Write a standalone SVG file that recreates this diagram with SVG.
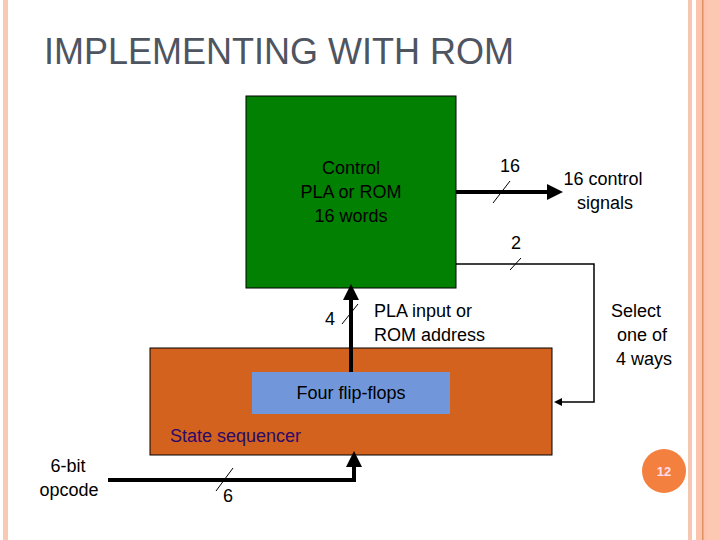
<svg xmlns="http://www.w3.org/2000/svg" width="720" height="540" viewBox="0 0 720 540">
<style>
text{font-family:"Liberation Sans",Arial,sans-serif;font-size:18px;fill:#000}
.thick{stroke:#000;stroke-width:4;fill:none}
.thin{stroke:#000;stroke-width:1.5;fill:none}
.tick{stroke:#000;stroke-width:1}
</style>
<defs>
<marker id="ah" markerWidth="4" markerHeight="4" refX="2" refY="2" orient="auto" markerUnits="strokeWidth"><path d="M0,0L4,2L0,4z" fill="#000"/></marker>
<marker id="ah2" markerWidth="8" markerHeight="8" refX="6" refY="4" orient="auto" markerUnits="userSpaceOnUse"><path d="M0,0L8,4L0,8z" fill="#000"/></marker>
</defs>
<rect width="720" height="540" fill="#fff"/>
<rect x="3" y="0" width="5" height="540" fill="#f9c9b4"/>
<rect x="688" y="0" width="4" height="540" fill="#f7c6b0"/>
<rect x="696" y="0" width="24" height="540" fill="#fcc4ae"/>
<rect x="702" y="0" width="1.5" height="540" fill="#e0905e"/>
<rect x="707" y="0" width="13" height="540" fill="#fdc8b2"/>
<text x="44" y="64" style="font-size:36px;fill:#4e5560">IMPLEMENTING WITH ROM</text>
<g id="rom"><rect x="246" y="96" width="210" height="192" fill="#028002" stroke="#000" stroke-width="1"/>
<text text-anchor="middle"><tspan x="351" y="174">Control</tspan><tspan x="351" y="198">PLA or ROM</tspan><tspan x="351" y="222">16 words</tspan></text></g>
<g id="seq"><rect x="150" y="348" width="402" height="107" fill="#d2621e" stroke="#000" stroke-width="1"/>
<text x="170" y="442" style="fill:#2a0a6a">State sequencer</text></g>
<g id="ff"><rect x="252" y="372" width="198" height="42" fill="#7197da"/>
<text x="351" y="399" text-anchor="middle">Four flip-flops</text></g>
<g id="connectors">
<path class="thick" d="M456,192H555" marker-end="url(#ah)"/>
<line class="tick" x1="493" y1="203" x2="510" y2="181"/>
<path class="thin" d="M456,264H594V402H556" marker-end="url(#ah2)"/>
<line class="tick" x1="510" y1="270" x2="521" y2="258"/>
<path class="thick" d="M351,372V292" marker-end="url(#ah)"/>
<line class="tick" x1="342" y1="324" x2="358" y2="304"/>
<path class="thick" d="M108,480H354V459" marker-end="url(#ah)"/>
<line class="tick" x1="216" y1="491" x2="233" y2="468"/>
</g>
<text x="510" y="172" text-anchor="middle">16</text>
<text x="603" y="185" text-anchor="middle">16 control</text>
<text x="605" y="209" text-anchor="middle">signals</text>
<text x="516" y="249" text-anchor="middle">2</text>
<text x="330" y="325" text-anchor="middle">4</text>
<text x="374" y="317">PLA input or</text>
<text x="374" y="341">ROM address</text>
<text x="636" y="317" text-anchor="middle">Select</text>
<text x="642" y="341" text-anchor="middle">one of</text>
<text x="644" y="365" text-anchor="middle">4 ways</text>
<text x="68" y="472" text-anchor="middle">6-bit</text>
<text x="69" y="496" text-anchor="middle">opcode</text>
<text x="228" y="502" text-anchor="middle">6</text>
<circle cx="664" cy="471" r="22" fill="#f3803e"/>
<text x="664" y="476" text-anchor="middle" style="font-size:13px;font-weight:bold;fill:#fde">12</text>
</svg>
